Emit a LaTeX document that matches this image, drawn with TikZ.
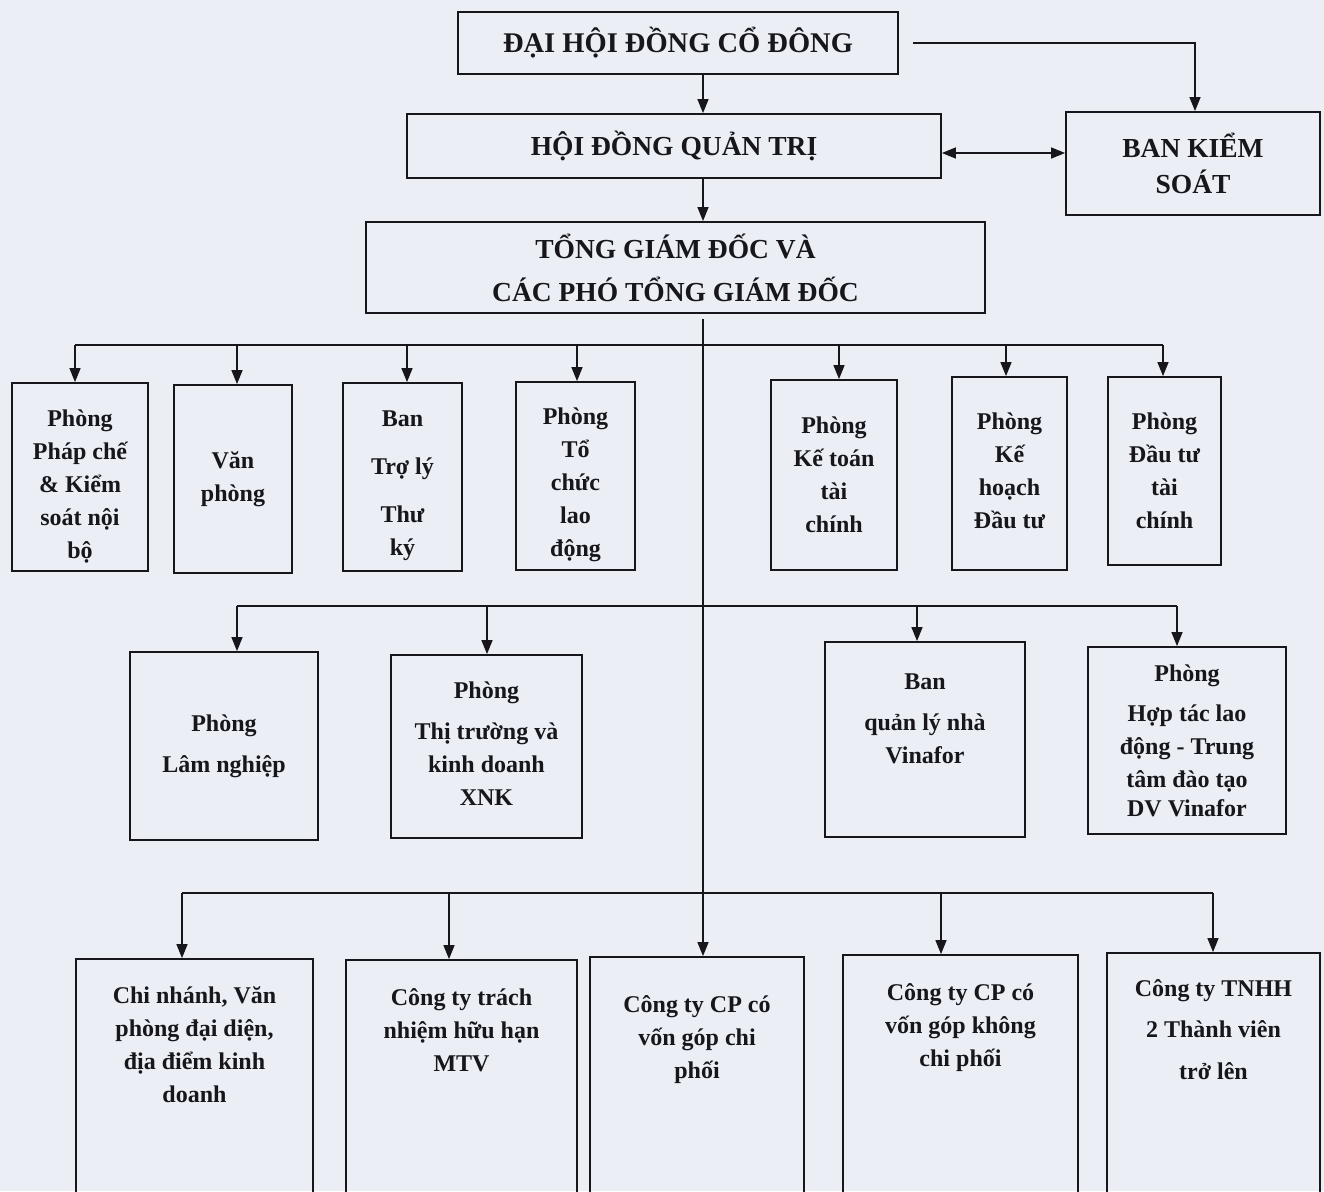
\documentclass[tikz,border=0pt]{standalone}
\usepackage{fontspec}
\setmainfont{Liberation Serif}
\usetikzlibrary{arrows.meta}
\definecolor{bg}{RGB}{236,238,246}
\definecolor{ink}{RGB}{22,22,28}
\newcommand{\tbox}[4]{\parbox[c][#2pt][t]{#1pt}{\centering\vspace*{\dimexpr#3pt-14.6pt\relax}\strut #4}}
\begin{document}
\begin{tikzpicture}[x=1pt,y=-1pt,
  box/.style={draw=ink, line width=1.8pt, inner sep=0pt, align=center, text=ink,
    font=\bfseries\fontsize{24}{33}\selectfont},
  capbox/.style={box, font=\bfseries\fontsize{27.5}{36}\selectfont},
  link/.style={draw=ink, line width=1.4pt},
  arr/.style={link, -{Triangle[length=14pt,width=11pt]}},
  darr/.style={link, {Triangle[length=14pt,width=11pt]}-{Triangle[length=14pt,width=11pt]}}]
\useasboundingbox (0,0) rectangle (1324,1191);
\fill[bg] (0,0) rectangle (1324,1191);
\clip (0,0) rectangle (1324,1191);

\coordinate (spine) at (703,0);
\coordinate (bus1) at (0,345);
\coordinate (bus2) at (0,606);
\coordinate (bus3) at (0,893);

% top level
\node[capbox, minimum width=440, minimum height=62, font=\bfseries\fontsize{28.5}{36}\selectfont] (dhd) at (678,43) {ĐẠI HỘI ĐỒNG CỔ ĐÔNG};
\node[capbox, minimum width=534, minimum height=64] (hdqt) at (674,146) {HỘI ĐỒNG QUẢN TRỊ};
\node[capbox, minimum width=254, minimum height=103] (bks) at (1193,163.5) {BAN KIỂM\\SOÁT};
\node[capbox, minimum width=619, minimum height=91, font=\bfseries\fontsize{27.5}{43}\selectfont] (tgd) at (675.5,267.5) {TỔNG GIÁM ĐỐC VÀ\\CÁC PHÓ TỔNG GIÁM ĐỐC};

% row 1
\node[box, minimum width=136, minimum height=188] (p1) at (80,477) {\tbox{132}{188}{35}{Phòng\\Pháp chế\\\& Kiểm\\soát nội\\bộ}};
\node[box, minimum width=118, minimum height=188] (p2) at (233,479) {Văn\\phòng};
\node[box, minimum width=119, minimum height=188] (p3) at (402.5,477) {\tbox{115}{188}{35}{Ban\\[15pt]Trợ lý\\[15pt]Thư\\ký}};
\node[box, minimum width=119, minimum height=188] (p4) at (575.5,476) {\tbox{115}{188}{34}{Phòng\\Tổ\\chức\\lao\\động}};
\node[box, minimum width=126, minimum height=190] (p5) at (834,475) {Phòng\\Kế toán\\tài\\chính};
\node[box, minimum width=115, minimum height=193] (p6) at (1009.5,473.5) {\tbox{111}{193}{44}{Phòng\\Kế\\hoạch\\Đầu tư}};
\node[box, minimum width=113, minimum height=188] (p7) at (1164.5,471) {Phòng\\Đầu tư\\tài\\chính};

% row 2
\node[box, minimum width=188, minimum height=188] (q1) at (224,746) {Phòng\\[8pt]Lâm nghiệp};
\node[box, minimum width=191, minimum height=183] (q2) at (486.5,746.5) {\tbox{187}{183}{35}{Phòng\\[8pt]Thị trường và\\kinh doanh\\XNK}};
\node[box, minimum width=200, minimum height=195] (q3) at (925,739.5) {\tbox{196}{195}{39}{Ban\\[8pt]quản lý nhà\\Vinafor}};
\node[box, minimum width=198, minimum height=187] (q4) at (1187,740.5) {Phòng\\[7pt]Hợp tác lao\\động - Trung\\tâm đào tạo\\[-4pt]DV Vinafor};

% row 3
\node[box, minimum width=237, minimum height=241] (c1) at (194.5,1079.5) {\tbox{233}{241}{36}{Chi nhánh, Văn\\phòng đại diện,\\địa điểm kinh\\doanh}};
\node[box, minimum width=231, minimum height=240] (c2) at (461.5,1080) {\tbox{227}{240}{37}{Công ty trách\\nhiệm hữu hạn\\MTV}};
\node[box, minimum width=214, minimum height=243] (c3) at (697,1078.5) {\tbox{210}{243}{47}{Công ty CP có\\vốn góp chi\\phối}};
\node[box, minimum width=235, minimum height=245] (c4) at (960.5,1077.5) {\tbox{231}{245}{37}{Công ty CP có\\vốn góp không\\chi phối}};
\node[box, minimum width=213, minimum height=247] (c5) at (1213.5,1076.5) {\tbox{209}{247}{35}{Công ty TNHH\\[8pt]2 Thành viên\\[9pt]trở lên}};

% top connectors
\draw[arr] (dhd.south -| spine) -- (hdqt.north -| spine);
\draw[arr] (hdqt.south -| spine) -- (tgd.north -| spine);
\draw[arr] ([xshift=14pt]dhd.east) -| ([xshift=2pt]bks.north);
\draw[darr] ([yshift=-7pt]hdqt.east) -- ([yshift=-7pt]hdqt.east -| bks.west);

% trunk
\draw[arr, shorten <=5pt] (tgd.south -| spine) -- (c3.north -| spine);

% bus 1
\draw[link] ([xshift=-5pt]p1.north |- bus1) -- ([xshift=-1.5pt]p7.north |- bus1);
\foreach \n/\s in {p1/-5,p2/4,p3/4.5,p4/1.5,p5/5,p6/-3.5,p7/-1.5}
  \draw[arr] ([xshift=\s pt]\n.north |- bus1) -- ([xshift=\s pt]\n.north);

% bus 2
\draw[link] ([xshift=13pt]q1.north |- bus2) -- ([xshift=-10pt]q4.north |- bus2);
\foreach \n/\s in {q1/13,q2/0.5,q3/-8,q4/-10}
  \draw[arr] ([xshift=\s pt]\n.north |- bus2) -- ([xshift=\s pt]\n.north);

% bus 3
\draw[link] ([xshift=-12.5pt]c1.north |- bus3) -- ([xshift=-0.5pt]c5.north |- bus3);
\foreach \n/\s in {c1/-12.5,c2/-12.5,c4/-19.5,c5/-0.5}
  \draw[arr] ([xshift=\s pt]\n.north |- bus3) -- ([xshift=\s pt]\n.north);
\end{tikzpicture}
\end{document}
